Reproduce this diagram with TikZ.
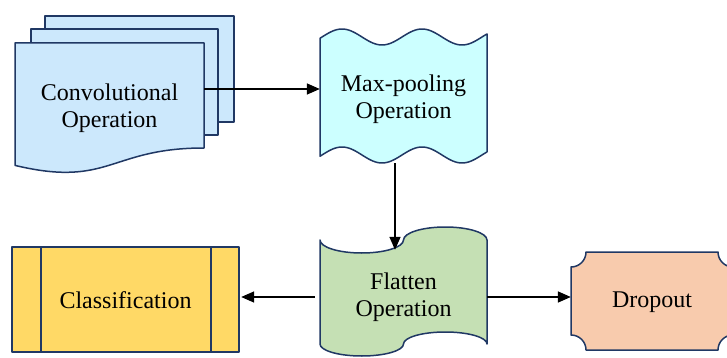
\documentclass[tikz,border=0pt]{standalone}
\usepackage{fontspec}
\setmainfont{Liberation Serif}
\usetikzlibrary{arrows.meta}
\definecolor{edge}{RGB}{32,56,100}
\definecolor{convfill}{RGB}{204,232,252}
\definecolor{maxfill}{RGB}{204,255,255}
\definecolor{flatfill}{RGB}{197,224,180}
\definecolor{classfill}{RGB}{255,217,102}
\definecolor{dropfill}{RGB}{248,203,173}
\begin{document}
\begin{tikzpicture}[x=1pt,y=-1pt,
  shapeline/.style={draw=edge, line width=1.5pt, line join=round},
  lbl/.style={inner sep=0pt, align=center, font=\fontsize{24}{27}\selectfont, text=black},
  arr/.style={draw=black, line width=1.6pt, -{Triangle[length=13pt,width=11pt]}}]
\useasboundingbox (0,0) rectangle (727,358);
% Convolutional (multi-document)
\path[shapeline, fill=convfill] (45,16) rectangle (234,122);
\path[shapeline, fill=convfill] (31,29) rectangle (218,135);
\path[shapeline, fill=convfill] (15,43) -- (204,43) -- (204,148)
  .. controls (109.5,148) and (109.5,188) .. (15,165.4) -- cycle;
% Max-pooling (double wave)
\path[shapeline, fill=maxfill]
  plot[domain=320:487, samples=80, smooth] (\x,{37-8*cos(4.5*(\x-422))})
  -- plot[domain=487:320, samples=80, smooth] (\x,{155-8*cos(4.5*(\x-422))})
  -- cycle;
% Flatten (punched tape)
\path[shapeline, fill=flatfill]
  (320,240) .. controls (320,247.18) and (338.7,253) .. (361.75,253)
  .. controls (384.8,253) and (403.5,247.18) .. (403.5,240)
  .. controls (403.5,232.82) and (422.2,227) .. (445.25,227)
  .. controls (468.3,227) and (487,232.82) .. (487,240)
  -- (487,344)
  .. controls (487,337.38) and (468.3,332) .. (445.25,332)
  .. controls (422.2,332) and (403.5,337.38) .. (403.5,344)
  .. controls (403.5,350.62) and (384.8,356) .. (361.75,356)
  .. controls (338.7,356) and (320,350.62) .. (320,344) -- cycle;
% Classification (predefined process)
\path[shapeline, fill=classfill] (12,247) rectangle (239,352);
\draw[shapeline] (41,247) -- (41,352) (211,247) -- (211,352);
% Dropout (plaque)
\path[shapeline, fill=dropfill]
  (586,252) -- (718,252) .. controls (718,260.28) and (724.72,267) .. (733,267)
  -- (733,335) .. controls (724.72,335) and (718,341.72) .. (718,350)
  -- (586,350) .. controls (586,341.72) and (579.28,335) .. (571,335)
  -- (571,267) .. controls (579.28,267) and (586,260.28) .. (586,252) -- cycle;
% Labels
\node[lbl, minimum width=189pt] (conv) at (109.5,108) {Convolutional\\Operation};
\node[lbl, minimum width=167pt, minimum height=128pt] (max) at (403.5,99) {Max-pooling\\Operation};
\node[lbl, minimum width=167pt, minimum height=94pt] (flat) at (403.5,297) {Flatten\\Operation};
\node[lbl, minimum width=227pt, minimum height=105pt] (class) at (125.5,300) {Classification};
\node[lbl, minimum width=162pt, minimum height=98pt] (drop) at (652,302) {Dropout};
% Connectors
\draw[arr] ([yshift=19pt]conv.east) -- ([yshift=10pt]max.west);
\draw[arr] ([xshift=-8.5pt]max.south) -- ([xshift=-8.5pt]flat.north);
\draw[arr, shorten <=5pt, shorten >=2pt] (flat.west) -- (flat.west -| class.east);
\draw[arr] (flat.east) -- (flat.east -| drop.west);
\end{tikzpicture}
\end{document}
